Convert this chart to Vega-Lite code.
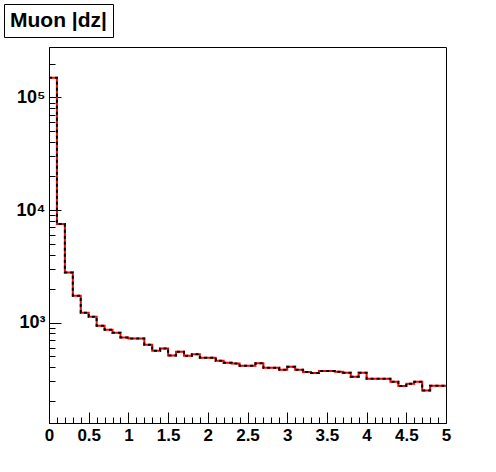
{
  "$schema": "https://vega.github.io/schema/vega-lite/v6.json",
  "width": 397,
  "height": 376,
  "autosize": {"type": "none"},
  "padding": {"left": 49, "top": 47, "right": 50, "bottom": 49},
  "background": "white",
  "config": {
    "view": {"stroke": "black", "strokeWidth": 1},
    "axis": {
      "grid": false,
      "labelFont": "Liberation Sans",
      "labelFontWeight": "bold",
      "labelFontSize": 17,
      "labelColor": "black",
      "domainColor": "black",
      "tickColor": "black",
      "title": null
    }
  },
  "data": {
    "values": [
      {"x": 0.0, "n": 150000}, {"x": 0.1, "n": 7500}, {"x": 0.2, "n": 2790}, {"x": 0.3, "n": 1730},
      {"x": 0.4, "n": 1222}, {"x": 0.5, "n": 1126}, {"x": 0.6, "n": 937}, {"x": 0.7, "n": 864},
      {"x": 0.8, "n": 811}, {"x": 0.9, "n": 738}, {"x": 1.0, "n": 723}, {"x": 1.1, "n": 723},
      {"x": 1.2, "n": 635}, {"x": 1.3, "n": 561}, {"x": 1.4, "n": 589}, {"x": 1.5, "n": 510},
      {"x": 1.6, "n": 549}, {"x": 1.7, "n": 507}, {"x": 1.8, "n": 522}, {"x": 1.9, "n": 487},
      {"x": 2.0, "n": 487}, {"x": 2.1, "n": 457}, {"x": 2.2, "n": 439}, {"x": 2.3, "n": 433},
      {"x": 2.4, "n": 413}, {"x": 2.5, "n": 413}, {"x": 2.6, "n": 434}, {"x": 2.7, "n": 396},
      {"x": 2.8, "n": 396}, {"x": 2.9, "n": 381}, {"x": 3.0, "n": 404}, {"x": 3.1, "n": 381},
      {"x": 3.2, "n": 363}, {"x": 3.3, "n": 356}, {"x": 3.4, "n": 371}, {"x": 3.5, "n": 371},
      {"x": 3.6, "n": 365}, {"x": 3.7, "n": 358}, {"x": 3.8, "n": 330}, {"x": 3.9, "n": 358},
      {"x": 4.0, "n": 317}, {"x": 4.1, "n": 317}, {"x": 4.2, "n": 317}, {"x": 4.3, "n": 298},
      {"x": 4.4, "n": 273}, {"x": 4.5, "n": 286}, {"x": 4.6, "n": 298}, {"x": 4.7, "n": 249},
      {"x": 4.8, "n": 275}, {"x": 4.9, "n": 275}, {"x": 5.0, "n": 275}
    ]
  },
  "layer": [
    {
      "mark": {"type": "line", "interpolate": "step-after", "strokeWidth": 2, "clip": true},
      "encoding": {
        "x": {"field": "x", "type": "quantitative", "scale": {"domain": [0, 5], "nice": false, "zero": false},
          "axis": {"orient": "bottom", "values": [0, 0.5, 1, 1.5, 2, 2.5, 3, 3.5, 4, 4.5, 5], "tickSize": -11, "labelPadding": 15, "labelExpr": "format(datum.value, '~g')", "labelFlush": false}},
        "y": {"field": "n", "type": "quantitative", "scale": {"type": "log", "domain": [128, 281000], "nice": false},
          "axis": {"orient": "left", "values": [1000, 10000, 100000], "tickSize": -12, "labelPadding": 16, "labelFontSize": 18,
            "labelExpr": "datum.value == 1000 ? '10³' : datum.value == 10000 ? '10⁴' : '10⁵'"}},
        "stroke": {"datum": "Muon", "scale": {"range": ["#ff0000"]},
          "legend": {"title": "Muon |dz|", "values": [], "orient": "none", "legendX": -45, "legendY": -43,
            "strokeColor": "black", "fillColor": "white", "padding": 6,
            "titleFont": "Liberation Sans", "titleFontSize": 21, "titleFontWeight": "bold", "titleColor": "black", "titlePadding": 0}}
      }
    },
    {
      "mark": {"type": "line", "interpolate": "step-after", "color": "black", "strokeWidth": 2, "strokeDash": [3, 3], "clip": true},
      "encoding": {
        "x": {"field": "x", "type": "quantitative", "scale": {"domain": [0, 5], "nice": false, "zero": false},
          "axis": {"orient": "bottom", "values": [0.1,0.2,0.3,0.4,0.6,0.7,0.8,0.9,1.1,1.2,1.3,1.4,1.6,1.7,1.8,1.9,2.1,2.2,2.3,2.4,2.6,2.7,2.8,2.9,3.1,3.2,3.3,3.4,3.6,3.7,3.8,3.9,4.1,4.2,4.3,4.4,4.6,4.7,4.8,4.9], "tickSize": -6, "labels": false, "domain": false}},
        "y": {"field": "n", "type": "quantitative", "scale": {"type": "log", "domain": [128, 281000], "nice": false},
          "axis": {"orient": "left", "values": [200,300,400,500,600,700,800,900,2000,3000,4000,5000,6000,7000,8000,9000,20000,30000,40000,50000,60000,70000,80000,90000,200000], "tickSize": -6, "labels": false, "domain": false}}
      }
    }
  ],
  "resolve": {"axis": {"x": "independent", "y": "independent"}}
}
